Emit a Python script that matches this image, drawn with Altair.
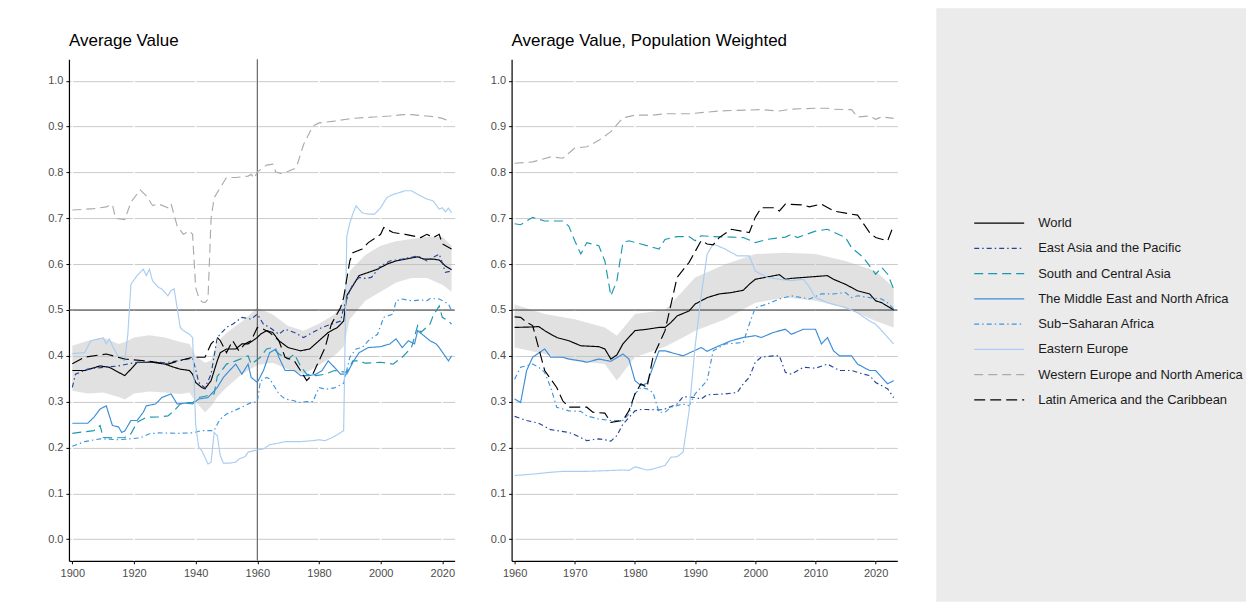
import altair as alt
import pandas as pd

SERIES = ["World", "East Asia and the Pacific", "South and Central Asia",
          "The Middle East and North Africa", "Sub\u2212Saharan Africa", "Eastern Europe",
          "Western Europe and North America", "Latin America and the Caribbean"]
COLORS = ["#000000", "#22479a", "#1c97b0", "#3a8dd8", "#3e95de", "#a9cdf0", "#ababab", "#000000"]
DASHES = [[1, 0], [5, 3, 1.5, 3], [9, 5], [1, 0], [5, 3, 1.5, 3], [1, 0], [9, 5], [11, 5]]

Y_TICKS = [0.0, 0.1, 0.2, 0.3, 0.4, 0.5, 0.6, 0.7, 0.8, 0.9, 1.0]
L_TICKS = [1900, 1920, 1940, 1960, 1980, 2000, 2020]
R_TICKS = [1960, 1970, 1980, 1990, 2000, 2010, 2020]
REF_Y = [0.5]
REF_X = [1960]

# ---------------- Left panel: Average Value ----------------
L_WORLD_YR = [1900, 1904, 1909, 1912, 1915, 1917, 1919, 1921, 1926, 1930,
              1933, 1935, 1938, 1939, 1940, 1942, 1943, 1945, 1947, 1948,
              1950, 1953, 1955, 1957, 1960, 1961, 1963, 1965, 1967, 1970,
              1974, 1977, 1980, 1983, 1986, 1988, 1989, 1991, 1993, 1996,
              1999, 2002, 2005, 2008, 2012, 2014, 2017, 2019, 2021, 2023]
L_WORLD_V = [.368, .368, .378, .375, .364, .357, .371, .386, .386, .382,
             .375, .371, .368, .360, .342, .331, .328, .346, .389, .407,
             .415, .415, .426, .426, .440, .447, .455, .451, .433, .418,
             .411, .415, .433, .451, .462, .476, .531, .553, .575, .582,
             .589, .600, .607, .611, .616, .611, .611, .609, .596, .588]

L_EA_YR = [1900, 1901, 1905, 1910, 1915, 1920, 1925, 1930, 1935, 1939,
           1940, 1941, 1943, 1945, 1947, 1950, 1952, 1955, 1958, 1960,
           1962, 1964, 1967, 1969, 1972, 1975, 1978, 1981, 1984, 1987,
           1988, 1990, 1991, 1993, 1995, 1997, 2000, 2003, 2007, 2012,
           2015, 2019, 2021, 2023]
L_EA_V = [.331, .360, .371, .375, .378, .385, .387, .385, .390, .395,
          .370, .342, .330, .360, .440, .462, .469, .484, .480, .491,
          .469, .462, .447, .458, .451, .440, .451, .462, .469, .476,
          .505, .542, .556, .571, .569, .571, .596, .607, .611, .618,
          .607, .622, .582, .585]

L_SCA_YR = [1900, 1907, 1909, 1910, 1913, 1917, 1919, 1921, 1924, 1928,
            1931, 1933, 1935, 1937, 1939, 1941, 1943, 1946, 1947, 1950,
            1953, 1957, 1958, 1961, 1963, 1965, 1967, 1970, 1972, 1974,
            1976, 1979, 1982, 1985, 1989, 1991, 1993, 1995, 2000, 2004,
            2007, 2010, 2012, 2013, 2016, 2017, 2019, 2020, 2022, 2023]
L_SCA_V = [.231, .237, .248, .222, .221, .222, .230, .255, .266, .267,
           .269, .280, .295, .298, .298, .309, .312, .317, .355, .382,
           .389, .400, .382, .397, .415, .418, .404, .393, .404, .378,
           .360, .357, .360, .368, .364, .389, .389, .384, .386, .382,
           .397, .418, .466, .451, .469, .487, .509, .484, .476, .469]

L_MENA_YR = [1900, 1905, 1907, 1909, 1911, 1913, 1915, 1916, 1917, 1919,
             1921, 1923, 1924, 1927, 1929, 1932, 1934, 1937, 1939, 1941,
             1944, 1947, 1949, 1951, 1953, 1955, 1957, 1958, 1960, 1962,
             1964, 1966, 1967, 1969, 1972, 1974, 1977, 1979, 1981, 1983,
             1985, 1987, 1989, 1991, 1993, 1996, 2000, 2003, 2005, 2007,
             2009, 2011, 2012, 2014, 2016, 2018, 2019, 2022, 2023]
L_MENA_V = [.253, .253, .266, .284, .291, .248, .245, .233, .236, .259,
            .259, .277, .291, .295, .309, .317, .295, .297, .295, .306,
            .309, .331, .353, .368, .382, .360, .382, .353, .342, .368,
            .407, .415, .397, .368, .368, .357, .357, .360, .368, .389,
            .375, .360, .360, .386, .407, .418, .420, .426, .437, .418,
            .433, .426, .455, .444, .433, .426, .418, .389, .400]

L_SSA_YR = [1900, 1904, 1909, 1915, 1922, 1925, 1928, 1934, 1939, 1942,
            1946, 1947, 1948, 1950, 1952, 1955, 1958, 1960, 1961, 1963,
            1964, 1965, 1967, 1969, 1972, 1973, 1976, 1978, 1980, 1982,
            1985, 1988, 1990, 1992, 1994, 1996, 1999, 2001, 2004, 2005,
            2007, 2010, 2013, 2015, 2016, 2019, 2022, 2023]
L_SSA_V = [.203, .213, .219, .217, .221, .230, .232, .231, .232, .237,
           .237, .251, .262, .273, .279, .288, .298, .300, .345, .353,
           .350, .339, .317, .306, .302, .298, .300, .300, .331, .327,
           .330, .340, .397, .415, .418, .433, .447, .484, .491, .520,
           .524, .520, .522, .520, .525, .524, .513, .498]

L_EE_YR = [1900, 1904, 1906, 1910, 1911, 1912, 1913, 1915, 1917, 1918,
           1919, 1921, 1923, 1924, 1925, 1926, 1928, 1929, 1931, 1932,
           1933, 1934, 1935, 1936, 1938, 1939, 1940, 1941, 1942, 1943,
           1944, 1945, 1946, 1947, 1948, 1949, 1951, 1953, 1954, 1956,
           1957, 1960, 1962, 1964, 1967, 1969, 1974, 1978, 1980, 1982,
           1984, 1986, 1988, 1989, 1990, 1991, 1992, 1994, 1996, 1998,
           2000, 2002, 2004, 2006, 2008, 2010, 2012, 2015, 2017, 2019,
           2020, 2021, 2022, 2023]
L_EE_V = [.405, .407, .433, .439, .426, .437, .422, .397, .389, .447,
          .556, .575, .589, .575, .589, .564, .549, .546, .531, .542,
          .546, .505, .462, .455, .447, .440, .250, .200, .193, .179,
          .164, .168, .233, .226, .182, .166, .166, .168, .175, .180,
          .190, .195, .197, .206, .210, .213, .213, .215, .217, .215,
          .221, .228, .237, .660, .690, .710, .727, .712, .709, .709,
          .723, .745, .752, .756, .760, .760, .752, .742, .738, .720,
          .723, .714, .722, .712]

L_WENA_YR = [1900, 1907, 1911, 1913, 1914, 1917, 1919, 1922, 1924, 1926,
             1928, 1931, 1932, 1934, 1936, 1938, 1939, 1940, 1941, 1942,
             1943, 1944, 1945, 1946, 1948, 1950, 1953, 1957, 1958, 1959,
             1960, 1963, 1965, 1966, 1968, 1972, 1973, 1975, 1978, 1980,
             1985, 1989, 1991, 1998, 2003, 2007, 2010, 2015, 2018, 2020,
             2023]
L_WENA_V = [.718, .721, .725, .730, .700, .697, .735, .762, .749, .728,
            .731, .723, .732, .683, .665, .672, .665, .549, .527, .518,
            .516, .524, .700, .745, .767, .789, .789, .792, .796, .787,
            .801, .816, .818, .801, .797, .808, .818, .861, .901, .908,
            .912, .916, .918, .921, .923, .926, .926, .923, .921, .918,
            .910]

L_LAC_YR = [1900, 1904, 1911, 1917, 1924, 1931, 1935, 1939, 1943, 1945,
            1947, 1948, 1950, 1952, 1954, 1956, 1958, 1960, 1962, 1964,
            1967, 1969, 1972, 1974, 1976, 1978, 1980, 1982, 1984, 1987,
            1988, 1990, 1991, 1994, 1996, 2000, 2001, 2004, 2008, 2013,
            2015, 2017, 2019, 2020, 2023]
L_LAC_V = [.383, .397, .404, .393, .389, .382, .390, .397, .397, .426,
           .440, .433, .407, .433, .411, .426, .433, .462, .458, .451,
           .433, .397, .389, .368, .346, .360, .389, .418, .469, .505,
           .527, .607, .625, .633, .647, .665, .680, .669, .665, .658,
           .665, .658, .665, .644, .633]

L_BAND_YR = [1900, 1905, 1910, 1915, 1917, 1920, 1925, 1930, 1935, 1938,
             1940, 1943, 1945, 1947, 1950, 1955, 1960, 1965, 1970, 1975,
             1980, 1985, 1988, 1990, 1995, 2000, 2005, 2010, 2015, 2020,
             2023]
L_BAND_LO = [.324, .318, .320, .310, .305, .318, .322, .320, .317, .320,
             .300, .277, .290, .310, .331, .360, .380, .385, .370, .360,
             .380, .400, .420, .480, .520, .540, .560, .570, .570, .555,
             .540]
L_BAND_HI = [.422, .433, .440, .426, .430, .440, .445, .440, .430, .426,
             .400, .385, .390, .430, .450, .475, .505, .490, .465, .455,
             .470, .490, .520, .585, .620, .640, .650, .655, .660, .660,
             .640]

# ---------------- Right panel: Population Weighted ----------------
R_WORLD_YR = [1960, 1963, 1964, 1965, 1967, 1969, 1971, 1974, 1975, 1976,
              1977, 1978, 1980, 1982, 1984, 1985, 1986, 1987, 1989, 1990,
              1992, 1994, 1996, 1998, 1999, 2000, 2002, 2004, 2005, 2006,
              2009, 2012, 2013, 2015, 2017, 2019, 2020, 2021, 2023]
R_WORLD_V = [.462, .463, .464, .455, .440, .433, .422, .420, .415, .393,
             .402, .426, .455, .458, .462, .462, .473, .487, .498, .513,
             .527, .535, .538, .543, .556, .567, .572, .577, .567, .569,
             .572, .575, .567, .556, .542, .535, .520, .516, .500]

R_EA_YR = [1960, 1962, 1964, 1966, 1969, 1970, 1972, 1974, 1975, 1976,
           1977, 1978, 1980, 1981, 1982, 1984, 1985, 1987, 1988, 1990,
           1991, 1992, 1995, 1997, 1998, 1999, 2000, 2001, 2003, 2004,
           2005, 2006, 2008, 2010, 2012, 2013, 2014, 2016, 2018, 2019,
           2020, 2022, 2023]
R_EA_V = [.268, .259, .253, .239, .233, .228, .215, .219, .217, .214,
          .226, .251, .280, .283, .283, .282, .284, .295, .311, .309,
          .306, .315, .317, .320, .339, .353, .386, .397, .400, .400,
          .364, .360, .375, .373, .382, .375, .368, .368, .360, .357,
          .342, .328, .309]

R_SCA_YR = [1960, 1961, 1963, 1965, 1968, 1969, 1970, 1971, 1972, 1974,
            1975, 1976, 1977, 1978, 1979, 1981, 1984, 1985, 1987, 1989,
            1990, 1991, 1993, 1996, 1998, 2000, 2002, 2005, 2006, 2007,
            2010, 2012, 2013, 2015, 2016, 2018, 2020, 2021, 2022, 2023]
R_SCA_V = [.688, .686, .702, .694, .694, .683, .651, .622, .647, .640,
           .607, .531, .564, .647, .651, .644, .633, .654, .660, .660,
           .651, .662, .660, .659, .658, .647, .654, .659, .665, .658,
           .672, .676, .670, .658, .636, .614, .578, .593, .578, .546]

R_MENA_YR = [1960, 1961, 1962, 1963, 1965, 1966, 1968, 1969, 1971, 1972,
             1974, 1976, 1978, 1979, 1980, 1981, 1982, 1984, 1985, 1988,
             1991, 1992, 1994, 1996, 1998, 2000, 2001, 2003, 2005, 2006,
             2008, 2010, 2011, 2012, 2013, 2014, 2016, 2017, 2019, 2020,
             2022, 2023]
R_MENA_V = [.306, .298, .368, .397, .415, .397, .397, .393, .389, .386,
            .393, .388, .404, .393, .346, .335, .340, .411, .411, .400,
            .418, .410, .422, .433, .440, .444, .440, .451, .458, .447,
            .458, .458, .426, .440, .411, .400, .400, .382, .368, .368,
            .339, .346]

R_SSA_YR = [1960, 1961, 1963, 1964, 1965, 1966, 1967, 1969, 1971, 1972,
            1974, 1976, 1978, 1979, 1980, 1981, 1982, 1983, 1984, 1985,
            1986, 1988, 1989, 1990, 1992, 1993, 1995, 1998, 1999, 2000,
            2002, 2004, 2006, 2009, 2011, 2013, 2015, 2016, 2017, 2019,
            2021, 2022, 2023]
R_SSA_V = [.349, .375, .382, .375, .364, .331, .288, .280, .279, .269,
           .262, .259, .259, .273, .317, .331, .328, .320, .277, .277,
           .288, .295, .291, .317, .346, .411, .426, .429, .469, .505,
           .513, .524, .531, .524, .535, .535, .538, .527, .531, .527,
           .524, .516, .502]

R_EE_YR = [1960, 1963, 1966, 1968, 1972, 1976, 1978, 1979, 1980, 1982,
           1983, 1985, 1986, 1987, 1988, 1989, 1990, 1991, 1992, 1993,
           1995, 1997, 1999, 2000, 2002, 2004, 2006, 2008, 2009, 2010,
           2012, 2015, 2017, 2019, 2020, 2021, 2023]
R_EE_V = [.139, .142, .146, .148, .148, .150, .151, .150, .158, .151,
          .153, .161, .179, .180, .190, .280, .420, .530, .622, .644,
          .633, .618, .618, .585, .571, .567, .564, .567, .550, .527,
          .516, .505, .494, .476, .469, .455, .426]

R_WENA_YR = [1960, 1963, 1966, 1968, 1970, 1972, 1974, 1976, 1978, 1980,
             1983, 1985, 1989, 1994, 1996, 2001, 2004, 2006, 2010, 2012,
             2013, 2015, 2016, 2017, 2019, 2020, 2021, 2023]
R_WENA_V = [.820, .823, .834, .831, .853, .856, .870, .889, .919, .925,
            .925, .928, .928, .934, .935, .937, .934, .938, .940, .940,
            .938, .937, .937, .921, .923, .916, .921, .918]

R_LAC_YR = [1960, 1961, 1962, 1963, 1965, 1967, 1968, 1969, 1972, 1973,
            1975, 1976, 1978, 1979, 1980, 1981, 1982, 1983, 1985, 1986,
            1987, 1989, 1991, 1992, 1993, 1994, 1996, 1999, 2000, 2001,
            2003, 2004, 2005, 2008, 2009, 2011, 2013, 2016, 2017, 2019,
            2020, 2022, 2023]
R_LAC_V = [.485, .484, .473, .466, .368, .331, .302, .288, .288, .277,
           .275, .255, .259, .280, .317, .339, .331, .397, .455, .513,
           .571, .604, .651, .644, .642, .658, .676, .669, .702, .723,
           .723, .716, .731, .729, .725, .731, .716, .709, .707, .669,
           .658, .651, .685]

R_BAND_YR = [1960, 1965, 1970, 1975, 1977, 1980, 1985, 1988, 1990, 1995,
             2000, 2005, 2010, 2015, 2020, 2023]
R_BAND_LO = [.418, .404, .389, .382, .346, .397, .420, .440, .455, .480,
             .516, .527, .520, .505, .476, .462]
R_BAND_HI = [.512, .491, .480, .462, .444, .491, .500, .542, .571, .600,
             .622, .625, .622, .607, .585, .549]


def long_df(items):
    rows = []
    for name, yrs, vals in items:
        assert len(yrs) == len(vals), name
        for y, v in zip(yrs, vals):
            rows.append({"year": y, "value": v, "series": name})
    return pd.DataFrame(rows)


left_df = long_df([
    (SERIES[0], L_WORLD_YR, L_WORLD_V), (SERIES[1], L_EA_YR, L_EA_V),
    (SERIES[2], L_SCA_YR, L_SCA_V), (SERIES[3], L_MENA_YR, L_MENA_V),
    (SERIES[4], L_SSA_YR, L_SSA_V), (SERIES[5], L_EE_YR, L_EE_V),
    (SERIES[6], L_WENA_YR, L_WENA_V), (SERIES[7], L_LAC_YR, L_LAC_V)])
right_df = long_df([
    (SERIES[0], R_WORLD_YR, R_WORLD_V), (SERIES[1], R_EA_YR, R_EA_V),
    (SERIES[2], R_SCA_YR, R_SCA_V), (SERIES[3], R_MENA_YR, R_MENA_V),
    (SERIES[4], R_SSA_YR, R_SSA_V), (SERIES[5], R_EE_YR, R_EE_V),
    (SERIES[6], R_WENA_YR, R_WENA_V), (SERIES[7], R_LAC_YR, R_LAC_V)])
left_band = pd.DataFrame({"year": L_BAND_YR, "lo": L_BAND_LO, "hi": L_BAND_HI})
right_band = pd.DataFrame({"year": R_BAND_YR, "lo": R_BAND_LO, "hi": R_BAND_HI})

FONT = "Liberation Sans"
color_enc = alt.Color("series:N", scale=alt.Scale(domain=SERIES, range=COLORS), legend=None)
dash_enc = alt.StrokeDash("series:N", scale=alt.Scale(domain=SERIES, range=DASHES), legend=None)


def panel(df, band, ticks, xdom, title, minext, vline):
    xs = alt.Scale(domain=xdom, nice=False, zero=False)
    ys = alt.Scale(domain=[-0.047, 1.047], nice=False, zero=False)
    xax = alt.Axis(values=ticks, format="d", grid=False, title=None, labelFontSize=11,
                   labelColor="#4d4d4d", labelFont=FONT, tickColor="#000000", tickSize=3,
                   domainColor="#000000", domainWidth=1.2, labelPadding=4, labelFlush=False)
    yax = alt.Axis(values=Y_TICKS, format=".1f", grid=True, gridColor="#cacaca", gridWidth=1,
                   title=None, labelFontSize=11, labelColor="#4d4d4d", labelFont=FONT,
                   tickColor="#000000", tickSize=3, domainColor="#000000", domainWidth=1.2,
                   labelPadding=3, minExtent=minext)

    def X(f):
        return alt.X(f, type="quantitative", scale=xs, axis=xax)

    def Y(f):
        return alt.Y(f, type="quantitative", scale=ys, axis=yax)

    vgrid = alt.Chart(pd.DataFrame({"year": ticks})).mark_rule(
        color="white", strokeWidth=1.6).encode(x=X("year"))
    rib = alt.Chart(band).mark_area(color="#bdbdbd", opacity=0.45).encode(
        x=X("year"), y=Y("lo"), y2="hi:Q")
    half = alt.Chart(pd.DataFrame({"v": REF_Y})).mark_rule(
        color="#3a3a3a", strokeWidth=1).encode(y=Y("v"))
    layers = [vgrid, rib, half]
    if vline:
        layers.append(alt.Chart(pd.DataFrame({"year": REF_X})).mark_rule(
            color="#5a5a5a", strokeWidth=1.1).encode(x=X("year")))
    lines = alt.Chart(df).mark_line(strokeWidth=1.15).encode(
        x=X("year"), y=Y("value"), color=color_enc, strokeDash=dash_enc)
    layers.append(lines)
    return alt.layer(*layers).properties(
        width=386, height=502,
        title=alt.TitleParams(title, anchor="start", frame="group", fontSize=17,
                              fontWeight="normal", color="#000000", font=FONT,
                              baseline="alphabetic", offset=-5))


left = panel(left_df, left_band, L_TICKS, [1898.9, 2024.0], "Average Value", 61, True)
right = panel(right_df, right_band, R_TICKS, [1959.5, 2023.6],
              "Average Value, Population Weighted", 24, False)

leg_df = pd.DataFrame({"series": SERIES})
ly = alt.Y("series:N", scale=alt.Scale(type="point", domain=SERIES, range=[164, 341], padding=0),
           axis=None)
bg = alt.Chart(pd.DataFrame({"k": [0]})).mark_rect(color="#ebebeb").encode(
    x=alt.value(6), x2=alt.value(316), y=alt.value(-51), y2=alt.value(543))
leg_rules = alt.Chart(leg_df).mark_rule(strokeWidth=1.2).encode(
    y=ly, x=alt.value(44), x2=alt.value(94), color=color_enc, strokeDash=dash_enc)
leg_text = alt.Chart(leg_df).mark_text(align="left", baseline="middle", fontSize=13,
                                       color="#1a1a1a", font=FONT).encode(
    y=ly, x=alt.value(108), text="series:N")
legend_panel = alt.layer(bg, leg_rules, leg_text).properties(width=316, height=502)

chart = alt.hconcat(left, right, legend_panel, spacing=32).properties(
    padding=0, background="white"
).configure(font=FONT).configure_view(strokeWidth=0, stroke="transparent")

chart.save("out.html", embed_options={"renderer": "svg", "actions": False})
